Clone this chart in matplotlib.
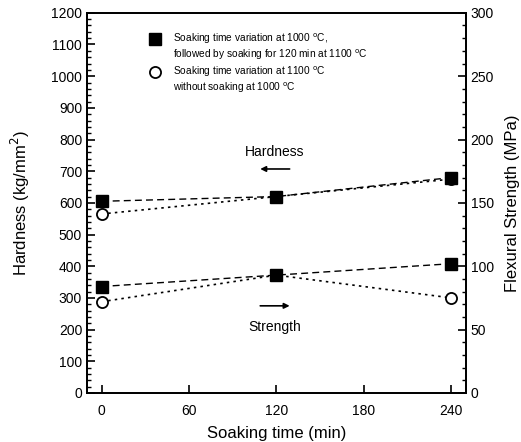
import numpy as np
import matplotlib
matplotlib.use("Agg")
import matplotlib.pyplot as plt
from matplotlib.ticker import MultipleLocator

plt.rcParams['font.family'] = ['Liberation Sans', 'DejaVu Sans']

tijd = [0, 120, 240]
hardheid_vol = [605, 620, 680]      # 1000C + 120 min at 1100C
hardheid_open = [565, 620, 675]     # 1100C only
sterkte_vol = [84, 93, 102]
sterkte_open = [72, 93, 75]

legenda1 = ["Soaking time variation at 1000 $^{\\mathrm{o}}$C,",
            "followed by soaking for 120 min at 1100 $^{\\mathrm{o}}$C"]
legenda2 = ["Soaking time variation at 1100 $^{\\mathrm{o}}$C",
            "without soaking at 1000 $^{\\mathrm{o}}$C"]

fig = plt.figure(figsize=(5.21, 4.42), dpi=100)
ax = fig.add_axes([0.167, 0.111, 0.727, 0.86])
ax2 = ax.twinx()

ax.plot(tijd, hardheid_open, ls=(0, (1.5, 2.5)), color='black', lw=1.2,
        marker='o', ms=8, mfc='white', mec='black', mew=1.3, zorder=2)
ax.plot(tijd, hardheid_vol, ls=(0, (5, 3)), color='black', lw=1.0,
        marker='s', ms=8, mfc='black', mec='black', zorder=3)
ax2.plot(tijd, sterkte_open, ls=(0, (1.5, 2.5)), color='black', lw=1.2,
         marker='o', ms=8, mfc='white', mec='black', mew=1.3, zorder=2)
ax2.plot(tijd, sterkte_vol, ls=(0, (5, 3)), color='black', lw=1.0,
         marker='s', ms=8, mfc='black', mec='black', zorder=3)

ax.set_xlim(-10, 250)
ax.set_ylim(0, 1200)
ax2.set_ylim(0, 300)
ax.set_xticks([0, 60, 120, 180, 240])
ax.yaxis.set_major_locator(MultipleLocator(100))
ax.yaxis.set_minor_locator(MultipleLocator(20))
ax2.yaxis.set_major_locator(MultipleLocator(50))
ax2.yaxis.set_minor_locator(MultipleLocator(10))

ax.tick_params(axis='both', which='major', direction='in', length=6, width=1.2, labelsize=10)
ax.tick_params(axis='y', which='minor', direction='in', length=3, width=1)
ax.tick_params(axis='x', pad=8)
ax2.tick_params(axis='y', which='major', direction='in', length=6, width=1.2, labelsize=10)
ax2.tick_params(axis='y', which='minor', direction='in', length=3, width=1)
for a in (ax, ax2):
    for s in a.spines.values():
        s.set_linewidth(1.3)

ax.set_xlabel("Soaking time (min)", fontsize=12, labelpad=6)
ax.set_ylabel("Hardness (kg/mm$^2$)", fontsize=12, labelpad=14)
ax2.set_ylabel("Flexural Strength (MPa)", fontsize=12, labelpad=8)

# legenda met de hand
ax.plot([37], [1118], marker='s', ms=8, color='black', ls='none')
ax.text(49, 1118, legenda1[0], fontsize=7.3, va='center', ha='left')
ax.text(49, 1067, legenda1[1], fontsize=7.3, va='center', ha='left')
ax.plot([37], [1014], marker='o', ms=8, mfc='white', mec='black', mew=1.3, ls='none')
ax.text(49, 1014, legenda2[0], fontsize=7.3, va='center', ha='left')
ax.text(49, 963, legenda2[1], fontsize=7.3, va='center', ha='left')

# pijlen
ax.text(119, 761, "Hardness", fontsize=10, ha='center', va='center')
ax.annotate("", xy=(107, 707), xytext=(131, 707),
            arrowprops=dict(arrowstyle='-|>', color='black', lw=1.2, mutation_scale=8))
ax.text(119, 208, "Strength", fontsize=10, ha='center', va='center')
ax.annotate("", xy=(131, 275), xytext=(107, 275),
            arrowprops=dict(arrowstyle='-|>', color='black', lw=1.2, mutation_scale=8))

fig.savefig("out.png", dpi=100)
